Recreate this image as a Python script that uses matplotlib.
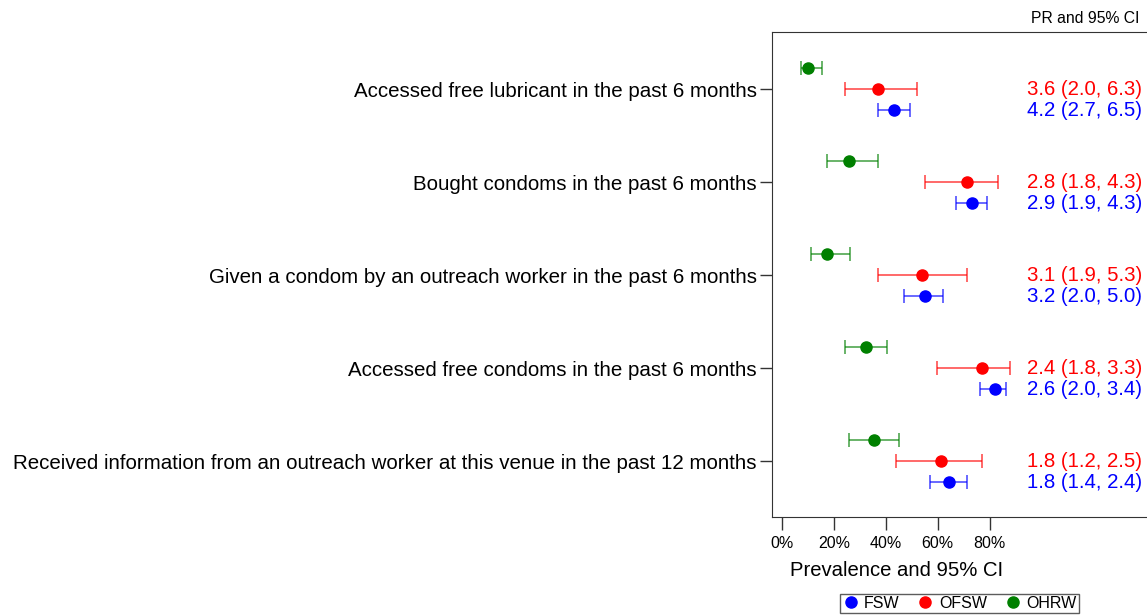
#!/usr/bin/env python

import matplotlib.pyplot as plt

plt.rcParams['font.family'] = ['Liberation Sans', 'DejaVu Sans']

# Indicators (top to bottom)
labels = [
    "Accessed free lubricant in the past 6 months",
    "Bought condoms in the past 6 months",
    "Given a condom by an outreach worker in the past 6 months",
    "Accessed free condoms in the past 6 months",
    "Received information from an outreach worker at this venue in the past 12 months",
]

# Prevalence (%) with 95% CI
fsw = [43.1, 73.1, 55.2, 82.1, 64.2]
fsw_lo = [37.0, 67.1, 47.0, 76.2, 57.1]
fsw_hi = [49.3, 78.9, 62.2, 86.3, 71.4]

ofsw = [36.8, 71.2, 54.1, 77.2, 61.2]
ofsw_lo = [24.2, 55.2, 36.8, 59.8, 44.0]
ofsw_hi = [52.0, 83.3, 71.2, 88.0, 77.1]

ohrw = [10.0, 25.9, 17.1, 32.2, 35.3]
ohrw_lo = [7.1, 17.1, 11.1, 24.1, 25.8]
ohrw_hi = [15.4, 37.0, 26.1, 40.3, 45.1]

# Prevalence ratios shown on the right
pr_ofsw = ["3.6 (2.0, 6.3)", "2.8 (1.8, 4.3)", "3.1 (1.9, 5.3)", "2.4 (1.8, 3.3)", "1.8 (1.2, 2.5)"]
pr_fsw = ["4.2 (2.7, 6.5)", "2.9 (1.9, 4.3)", "3.2 (2.0, 5.0)", "2.6 (2.0, 3.4)", "1.8 (1.4, 2.4)"]

ticks = [0, 20, 40, 60, 80]

fig = plt.figure(figsize=(11.47, 6.15), dpi=100)
ax = fig.add_axes([772 / 1147, 1 - 517 / 615, (1147 - 772) / 1147, (517 - 32) / 615])

off = 0.231
ypos = list(range(len(labels)))

series = [
    (fsw, fsw_lo, fsw_hi, "blue", off, "FSW"),
    (ofsw, ofsw_lo, ofsw_hi, "red", 0.0, "OFSW"),
    (ohrw, ohrw_lo, ohrw_hi, "green", -off, "OHRW"),
]
for vals, lo, hi, col, dy, name in series:
    yy = [y + dy for y in ypos]
    err = [[v - l for v, l in zip(vals, lo)], [h - v for v, h in zip(vals, hi)]]
    ax.errorbar(vals, yy, xerr=err, fmt="none", ecolor=col, elinewidth=1.1,
                capsize=5, capthick=1.1, alpha=0.75)
    ax.plot(vals, yy, "o", color=col, markersize=8, label=name, linestyle="none")

for i in ypos:
    ax.text(0.987, i, pr_ofsw[i], color="red", fontsize=14.7, ha="right", va="center",
            transform=ax.get_yaxis_transform())
    ax.text(0.987, i + off, pr_fsw[i], color="blue", fontsize=14.7, ha="right", va="center",
            transform=ax.get_yaxis_transform())

ax.set_xlim(-4, 140.8)
ax.set_ylim(4.602, -0.613)
ax.set_xticks(ticks)
ax.set_xticklabels([f"{t}%" for t in ticks], fontsize=11.5)
ax.set_yticks(ypos)
ax.set_yticklabels(labels, fontsize=14.8)
ax.tick_params(axis="both", length=9, width=1, color="#333333")
ax.tick_params(axis="y", pad=2)
ax.tick_params(axis="x", pad=5)

for s in ["left", "top", "bottom"]:
    ax.spines[s].set_color("#333333")
ax.spines["right"].set_visible(False)

ax.set_xlabel("Prevalence and 95% CI", fontsize=14.6)
ax.xaxis.set_label_coords((897 - 772) / (1147 - 772), -0.09)

ax.text(0.98, 1.012, "PR and 95% CI", fontsize=11.3, ha="right", va="bottom",
        transform=ax.transAxes)

leg = ax.legend(loc="upper center", bbox_to_anchor=(0.5, -0.158), ncol=3, frameon=True,
                fancybox=False, fontsize=11.5, handletextpad=0.35, columnspacing=1.1,
                borderpad=0.15, handlelength=1.0, borderaxespad=0)
leg.get_frame().set_edgecolor("#333333")
leg.get_frame().set_linewidth(1.0)

fig.savefig("out.png", dpi=100)
